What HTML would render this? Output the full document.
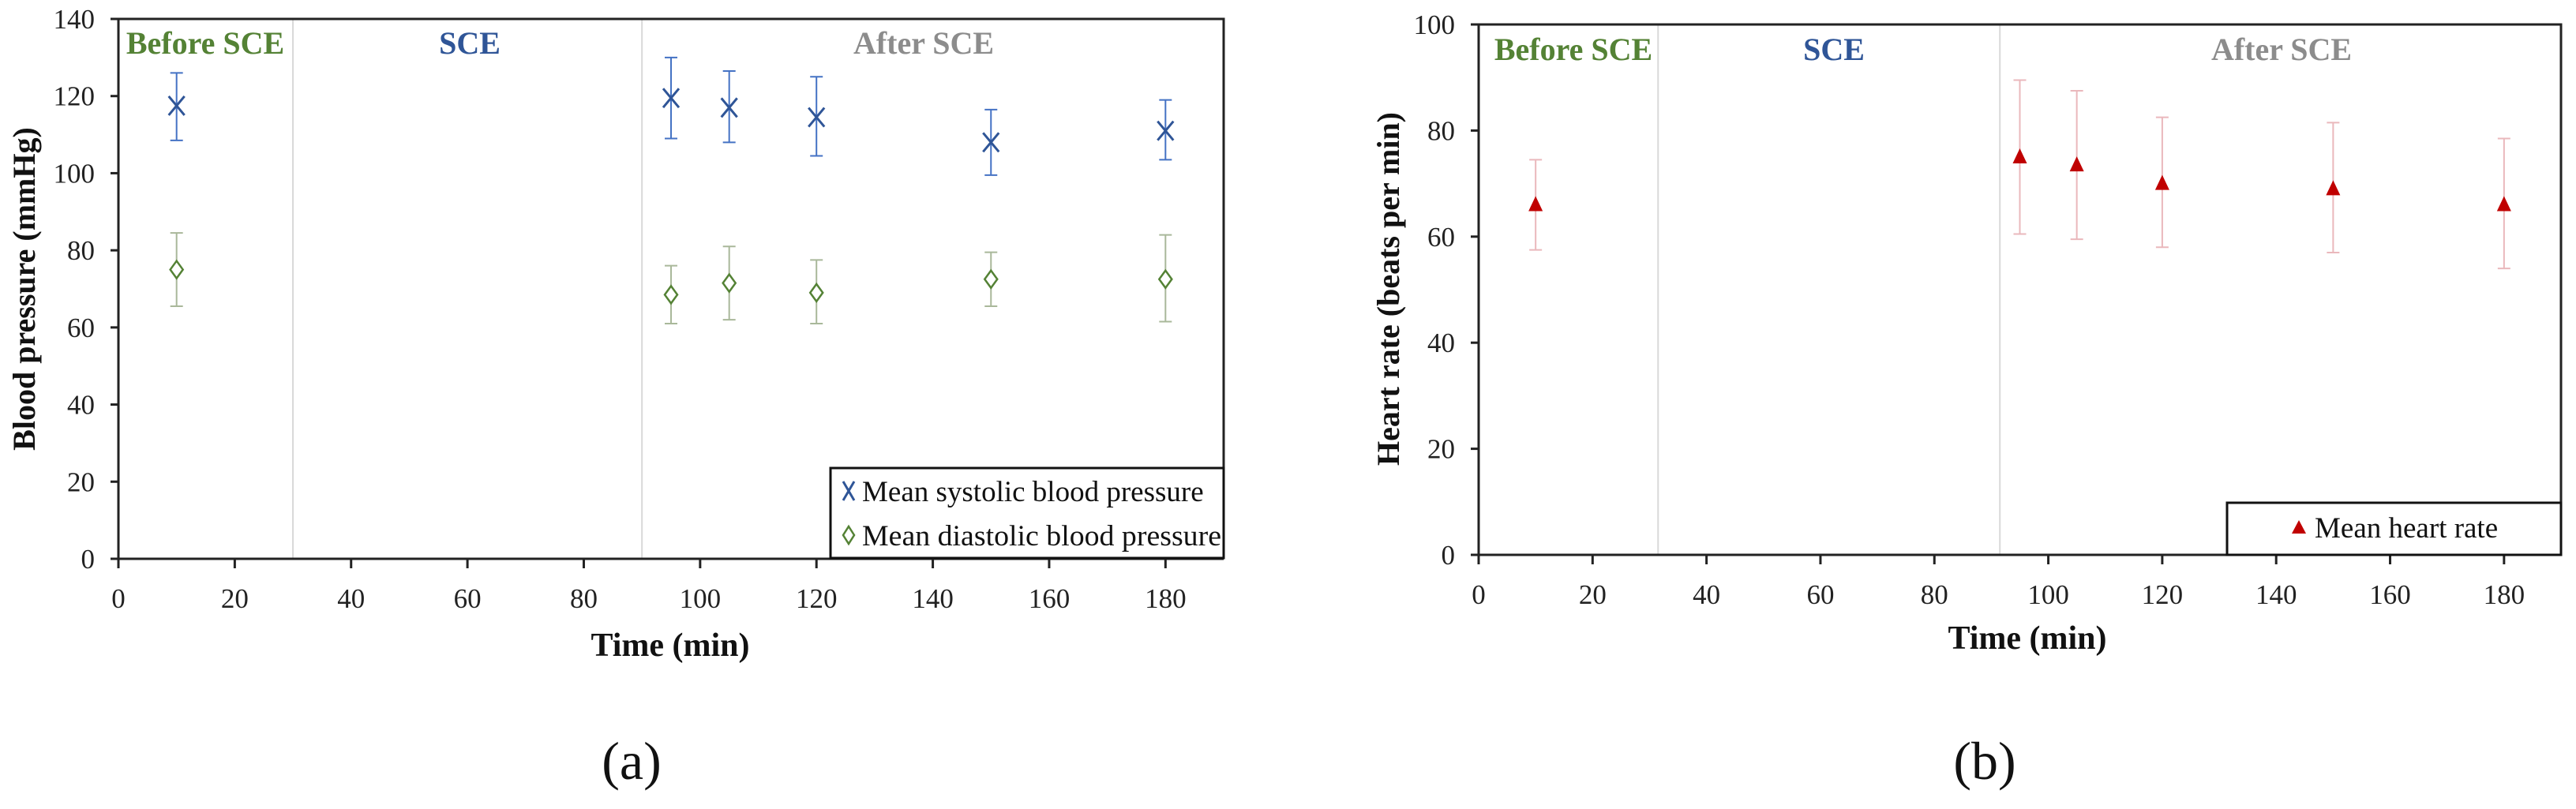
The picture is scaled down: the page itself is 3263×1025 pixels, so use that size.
<!DOCTYPE html>
<html><head><meta charset="utf-8"><style>
html,body{margin:0;padding:0;background:#fff;}
svg{display:block;font-family:"Liberation Serif",serif;}
</style></head><body>
<svg id="svg" width="3263" height="1025" viewBox="0 0 3263 1025" xmlns="http://www.w3.org/2000/svg"></svg>
<script>
// Chart (a) data
const timesA = [10, 95, 105, 120, 150, 180];
const systolicMean = [117.5, 119.5, 117, 114.5, 108, 111];
const systolicLow = [108.5, 109, 108, 104.5, 99.5, 103.5];
const systolicHigh = [126, 130, 126.5, 125, 116.5, 119];
const diastolicMean = [75, 68.5, 71.5, 69, 72.5, 72.5];
const diastolicLow = [65.5, 61, 62, 61, 65.5, 61.5];
const diastolicHigh = [84.5, 76, 81, 77.5, 79.5, 84];
const yTicksA = [0, 20, 40, 60, 80, 100, 120, 140];
// Chart (b) data
const timesB = [10, 95, 105, 120, 150, 180];
const heartMean = [66, 75, 73.5, 70, 69, 66];
const heartLow = [57.5, 60.5, 59.5, 58, 57, 54];
const heartHigh = [74.5, 89.5, 87.5, 82.5, 81.5, 78.5];
const yTicksB = [0, 20, 40, 60, 80, 100];
const xTicks = [0, 20, 40, 60, 80, 100, 120, 140, 160, 180];

const svg = document.getElementById('svg');
const NS = 'http://www.w3.org/2000/svg';
function mk(tag, attrs, parent, text) {
  const e = document.createElementNS(NS, tag);
  for (const k in attrs) e.setAttribute(k, attrs[k]);
  if (text !== undefined) e.textContent = text;
  (parent || svg).appendChild(e);
  return e;
}

function drawChart(cfg) {
  const g = mk('g', {});
  
  
  const X = v => cfg.x0 + (v - 0) * (cfg.x1 - cfg.x0) / 190;
  const Y = v => cfg.y0 - v * (cfg.y0 - cfg.y1) / cfg.ymax;
  cfg.dividers.forEach(d => {
    const l = mk('line', {x1: X(d), x2: X(d), y1: cfg.y1, y2: cfg.y0, stroke: '#d9d9d9', 'stroke-width': 2}, g);
    
    
  });
  const fr = mk('path', {d: `M${cfg.x0},${cfg.y1} H${cfg.x1} V${cfg.y0}`, fill: 'none', stroke: '#222', 'stroke-width': 3}, g);
  
  
  const ax = mk('path', {d: `M${cfg.x0},${cfg.y1} V${cfg.y0} H${cfg.x1}`, fill: 'none', stroke: '#222', 'stroke-width': 3}, g);
  
  
  cfg.yTicks.forEach(t => {
    mk('line', {x1: cfg.x0 - 10, x2: cfg.x0, y1: Y(t), y2: Y(t), stroke: '#222', 'stroke-width': 3}, g);
    const tl = mk('text', {x: cfg.x0 - 30, y: Y(t) + 12, 'text-anchor': 'end', 'font-size': 35, fill: '#222'}, g, t);
    
    
  });
  xTicks.forEach(t => {
    mk('line', {x1: X(t), x2: X(t), y1: cfg.y0, y2: cfg.y0 + 12, stroke: '#222', 'stroke-width': 3}, g);
    const tl = mk('text', {x: X(t), y: cfg.y0 + 62, 'text-anchor': 'middle', 'font-size': 35, fill: '#222'}, g, t);
    
    
  });
  [['Before SCE', cfg.phaseX[0], '#548235'], ['SCE', cfg.phaseX[1], '#2f5597'], ['After SCE', cfg.phaseX[2], '#8c8c8c']].forEach(p => {
    const t = mk('text', {x: p[1], y: cfg.phaseY, 'text-anchor': 'middle', 'font-size': 40, 'font-weight': 'bold', fill: p[2]}, g, p[0]);
    
    
  });
  const yt = mk('text', {x: 0, y: 0, 'text-anchor': 'middle', 'font-size': 40, 'font-weight': 'bold', fill: '#111', transform: `translate(${cfg.ytX},366) rotate(-90)`}, g, cfg.yTitle);
  
  
  const xt = mk('text', {x: cfg.xtX, y: cfg.xtY, 'text-anchor': 'middle', 'font-size': 42, 'font-weight': 'bold', fill: '#111'}, g, 'Time (min)');
  
  
  const pl = mk('text', {x: cfg.panelX, y: 987, 'text-anchor': 'middle', 'font-size': 68, fill: '#111'}, g, cfg.panel);
  
  
  return {g, X, Y};
}

function errorBar(g, x, lo, hi, color) {
  const e = mk('path', {d: `M${x},${lo} V${hi} M${x - 8},${lo} H${x + 8} M${x - 8},${hi} H${x + 8}`, stroke: color, 'stroke-width': 2, fill: 'none'}, g);
  
  
}

// Chart a
const A = drawChart({name: 'chart-a', x0: 150, x1: 1550, y0: 708, y1: 24, ymax: 140, yTicks: yTicksA,
  dividers: [30, 90], phaseX: [260, 595, 1170], phaseY: 68, ytX: 44, yTitle: 'Blood pressure (mmHg)',
  xtX: 849, xtY: 831, panelX: 800, panel: '(a)'});
timesA.forEach((t, i) => {
  const x = A.X(t);
  errorBar(A.g, x, A.Y(systolicLow[i]), A.Y(systolicHigh[i]), '#4472c4');
  const y = A.Y(systolicMean[i]);
  const m = mk('path', {d: `M${x - 10},${y - 12} L${x + 10},${y + 12} M${x + 10},${y - 12} L${x - 10},${y + 12}`, stroke: '#2f5597', 'stroke-width': 3, fill: 'none'}, A.g);
  
  
});
timesA.forEach((t, i) => {
  const x = A.X(t);
  errorBar(A.g, x, A.Y(diastolicLow[i]), A.Y(diastolicHigh[i]), '#a9b89a');
  const y = A.Y(diastolicMean[i]);
  const m = mk('path', {d: `M${x},${y - 11} L${x + 8},${y} L${x},${y + 11} L${x - 8},${y} Z`, stroke: '#548235', 'stroke-width': 2.5, fill: '#fff'}, A.g);
  
  
});
const legA = mk('g', {});


mk('rect', {x: 1052, y: 593, width: 498, height: 114, fill: '#fff', stroke: '#111', 'stroke-width': 3}, legA);
mk('path', {d: 'M1068,610 L1082,634 M1082,610 L1068,634', stroke: '#2f5597', 'stroke-width': 3}, legA);
const la1 = mk('text', {x: 1092, y: 635, 'font-size': 37, fill: '#111'}, legA, 'Mean systolic blood pressure');


mk('path', {d: 'M1075,667 L1082,678 L1075,689 L1068,678 Z', stroke: '#548235', 'stroke-width': 2.5, fill: '#fff'}, legA);
const la2 = mk('text', {x: 1092, y: 691, 'font-size': 37, fill: '#111', textLength: 455, lengthAdjust: 'spacingAndGlyphs'}, legA, 'Mean diastolic blood pressure');



// Chart b
const B = drawChart({name: 'chart-b', x0: 1873, x1: 3244, y0: 703, y1: 31, ymax: 100, yTicks: yTicksB,
  dividers: [31.5, 91.5], phaseX: [1993, 2323, 2890], phaseY: 76, ytX: 1772, yTitle: 'Heart rate (beats per min)',
  xtX: 2568, xtY: 822, panelX: 2514, panel: '(b)'});
timesB.forEach((t, i) => {
  const x = B.X(t);
  errorBar(B.g, x, B.Y(heartLow[i]), B.Y(heartHigh[i]), '#eab8bc');
  const y = B.Y(heartMean[i]);
  const m = mk('path', {d: `M${x},${y - 11} L${x + 9},${y + 8} L${x - 9},${y + 8} Z`, fill: '#c00000'}, B.g);
  
  
});
const legB = mk('g', {});


mk('rect', {x: 2821, y: 637, width: 423, height: 66, fill: '#fff', stroke: '#111', 'stroke-width': 3}, legB);
mk('path', {d: 'M2912,659 L2921,676 L2903,676 Z', fill: '#c00000'}, legB);
const lb = mk('text', {x: 2932, y: 681, 'font-size': 37, fill: '#111'}, legB, 'Mean heart rate');


</script>
</body></html>
